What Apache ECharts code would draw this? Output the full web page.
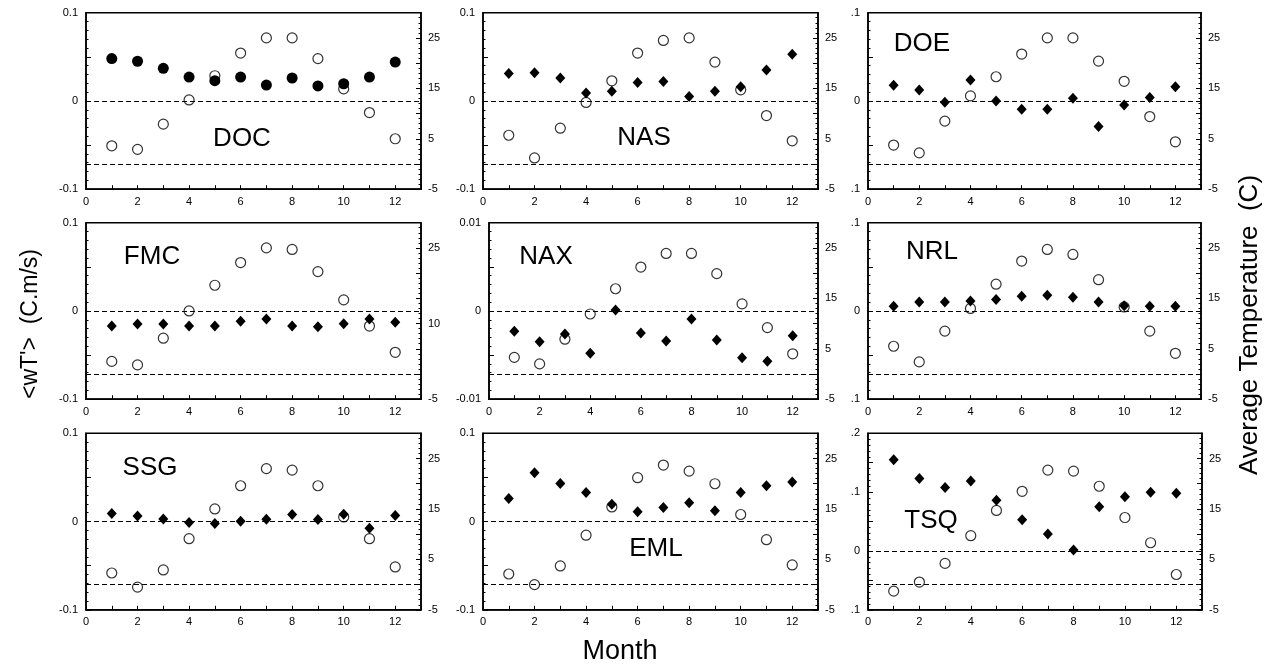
<!DOCTYPE html>
<html>
<head>
<meta charset="utf-8">
<script src="https://cdn.jsdelivr.net/npm/echarts@6/dist/echarts.min.js"></script>
<style>
html,body{margin:0;padding:0;background:#fff;}
#chart{width:1277px;height:668px;}
</style>
</head>
<body>
<div id="chart"></div>
<script>
// ---------- DATA ----------
const months = [1,2,3,4,5,6,7,8,9,10,11,12];
const stations = ['DOC','NAS','DOE','FMC','NAX','NRL','SSG','EML','TSQ'];

// <wT'> (C.m/s) -- left axis
const docWT = [0.048,0.045,0.037,0.027,0.023,0.027,0.018,0.026,0.017,0.0195,0.027,0.044];
const nasWT = [0.031,0.032,0.026,0.009,0.011,0.021,0.022,0.005,0.011,0.016,0.035,0.053];
const doeWT = [0.0177,0.0125,-0.0015,0.0238,0.0,-0.0094,-0.0094,0.003,-0.029,-0.0045,0.0038,0.0162];
const fmcWT = [-0.017,-0.0148,-0.0148,-0.017,-0.017,-0.0117,-0.0091,-0.017,-0.018,-0.0144,-0.0091,-0.0129];
const naxWT = [-0.0023,-0.0035,-0.0026,-0.0048,0.0001,-0.0025,-0.0034,-0.0009,-0.0033,-0.0053,-0.0057,-0.0028];
const nrlWT = [0.0053,0.0102,0.0102,0.0114,0.0129,0.0167,0.0178,0.0155,0.0102,0.006,0.0053,0.0053];
const ssgWT = [0.0091,0.0064,0.003,-0.0011,-0.0023,0.0004,0.0027,0.008,0.0023,0.0083,-0.0076,0.0068];
const emlWT = [0.0261,0.0553,0.0432,0.033,0.0197,0.011,0.0159,0.0212,0.0121,0.033,0.0405,0.0447];
const tsqWT = [0.155,0.123,0.108,0.119,0.086,0.053,0.029,0.0017,0.075,0.092,0.1,0.098];

// Average Temperature (C) -- right axis
const docT = [3.6,2.9,7.9,12.7,17.5,22.0,25.0,25.0,20.9,14.9,10.2,5.0];
const nasT = [5.7,1.2,7.1,12.2,16.5,22.0,24.5,25.0,20.2,14.7,9.6,4.6];
const doeT = [3.75,2.2,8.5,13.5,17.3,21.8,25.0,25.0,20.4,16.4,9.4,4.4];
const fmcT = [2.5,1.8,7.1,12.5,17.6,22.1,25.0,24.7,20.3,14.7,9.5,4.3];
const naxT = [3.3,2.0,6.9,11.9,16.9,21.2,23.9,23.9,19.9,13.9,9.2,4.0];
const nrlT = [5.5,2.4,8.5,13.0,17.8,22.4,24.7,23.7,18.7,13.3,8.5,4.1];
const ssgT = [2.3,-0.5,2.9,9.1,15.0,19.6,23.0,22.7,19.6,13.4,9.1,3.5];
const emlT = [2.1,0.0,3.7,9.8,15.4,21.2,23.7,22.5,20.0,13.9,8.9,3.9];
const tsqT = [-1.3,0.5,4.2,9.7,14.7,18.5,22.7,22.5,19.5,13.3,8.3,2.0];

// Tick labels
const xTickVals = [0,2,4,6,8,10,12];
const leftStdVals = [-0.1,0,0.1];
const leftStdText = ['-0.1','0','0.1'];
const leftDotText = ['.1','0','.1'];
const leftNaxVals = [-0.01,0,0.01];
const leftNaxText = ['-0.01','0','0.01'];
const leftTsqVals = [-0.1,0,0.1,0.2];
const leftTsqText = ['.1','0','.1','.2'];
const rightStdVals = [-5,5,15,25];
const rightFmcVals = [-5,10,25];

// ---------- LAYOUT ----------
const rowTop = [12.7, 222.7, 433.3];
const rowH = 176.5;
const panelBoxes = [
  [86,335],[483,335],[868,333],
  [86,335],[489,329],[868,333],
  [86,335],[483,335],[868,334]
];
const panelLabelPos = [
  [242,139],[644,138],[922,44],
  [152,257],[546,257],[932,252],
  [150,468],[656,549],[931,521]
];

const wtData = [docWT,nasWT,doeWT,fmcWT,naxWT,nrlWT,ssgWT,emlWT,tsqWT];
const tData = [docT,nasT,doeT,fmcT,naxT,nrlT,ssgT,emlT,tsqT];
const leftCfg = [
  {min:-0.1,max:0.1,step:0.05,vals:leftStdVals,text:leftStdText},
  {min:-0.1,max:0.1,step:0.05,vals:leftStdVals,text:leftStdText},
  {min:-0.1,max:0.1,step:0.05,vals:leftStdVals,text:leftDotText},
  {min:-0.1,max:0.1,step:0.05,vals:leftStdVals,text:leftStdText},
  {min:-0.01,max:0.01,step:0.005,vals:leftNaxVals,text:leftNaxText},
  {min:-0.1,max:0.1,step:0.05,vals:leftStdVals,text:leftDotText},
  {min:-0.1,max:0.1,step:0.05,vals:leftStdVals,text:leftStdText},
  {min:-0.1,max:0.1,step:0.05,vals:leftStdVals,text:leftStdText},
  {min:-0.1,max:0.2,step:0.05,vals:leftTsqVals,text:leftTsqText}
];
const rightLabelVals = [rightStdVals,rightStdVals,rightStdVals,rightFmcVals,rightStdVals,rightStdVals,rightStdVals,rightStdVals,rightStdVals];

function near(a,b,eps){return Math.abs(a-b) < eps;}

const FONT = 'Liberation Sans, Arial, sans-serif';
const grids=[], xAxes=[], yAxes=[], series=[], graphics=[];

stations.forEach((name,i)=>{
  const r = Math.floor(i/3);
  const [left,width] = panelBoxes[i];
  grids.push({left:left, top:rowTop[r], width:width, height:rowH, show:true,
    borderColor:'#000', borderWidth:1.5, backgroundColor:'transparent', containLabel:false});
  xAxes.push({type:'value', gridIndex:i, position:'bottom', min:0, max:13, interval:1,
    axisLine:{show:true,onZero:false,lineStyle:{color:'#000',width:1.5}},
    axisTick:{show:true,inside:true,length:4,lineStyle:{color:'#000'}},
    splitLine:{show:false},
    axisLabel:{color:'#000',fontSize:11,fontFamily:FONT,margin:7,
      formatter:v=>xTickVals.some(t=>near(t,v,1e-6))?String(Math.round(v)):''}
  });
  const lc = leftCfg[i];
  yAxes.push({type:'value', gridIndex:i, position:'left', min:lc.min, max:lc.max, interval:lc.step,
    axisLine:{show:true,onZero:false,lineStyle:{color:'#000',width:1.5}},
    axisTick:{show:true,inside:true,length:5,lineStyle:{color:'#000'}},
    minorTick:{show:true,splitNumber:5,length:2.5,lineStyle:{color:'#000'}},
    splitLine:{show:false},
    axisLabel:{color:'#000',fontSize:11,fontFamily:FONT,margin:8,
      formatter:v=>{const k=lc.vals.findIndex(t=>near(t,v,lc.step/100));return k>=0?lc.text[k]:'';}}
  });
  const rv = rightLabelVals[i];
  yAxes.push({type:'value', gridIndex:i, position:'right', min:-5, max:30, interval:5,
    axisLine:{show:true,onZero:false,lineStyle:{color:'#000',width:1.5}},
    axisTick:{show:true,inside:true,length:5,lineStyle:{color:'#000'}},
    minorTick:{show:true,splitNumber:5,length:2.5,lineStyle:{color:'#000'}},
    splitLine:{show:false},
    axisLabel:{color:'#000',fontSize:11,fontFamily:FONT,margin:7,
      formatter:v=>rv.some(t=>near(t,v,0.01))?String(Math.round(v)):''}
  });
  const dash = {color:'#000',width:1.2,type:[5,3]};
  series.push({type:'scatter', xAxisIndex:i, yAxisIndex:2*i+1, symbol:'circle', symbolSize:10,
    itemStyle:{color:'#fff',borderColor:'#000',borderWidth:1.2},
    data: months.map((m,k)=>[m,tData[i][k]]),
    markLine:{silent:true,symbol:'none',label:{show:false},lineStyle:dash,animation:false,
      data:[{yAxis:0}]},
    z:2});
  series.push({type:'scatter', xAxisIndex:i, yAxisIndex:2*i, symbol: name==='DOC'?'circle':'diamond',
    symbolSize: name==='DOC'?11:[10,11],
    itemStyle:{color:'#000',opacity:1},
    data: months.map((m,k)=>[m,wtData[i][k]]),
    markLine:{silent:true,symbol:'none',label:{show:false},lineStyle:dash,animation:false,
      data:[{yAxis:0}]},
    z:3});
  graphics.push({type:'text', x:panelLabelPos[i][0], y:panelLabelPos[i][1], z:10,
    style:{text:name, fill:'#000', fontSize:26, fontFamily:FONT, align:'center', verticalAlign:'middle'}});
});

graphics.push({type:'text', x:31, y:324, rotation:Math.PI/2, z:10,
  style:{text:"<wT'>  (C.m/s)", fill:'#000', fontSize:23, fontFamily:FONT, align:'center', verticalAlign:'middle'}});
graphics.push({type:'text', x:1250, y:325, rotation:Math.PI/2, z:10,
  style:{text:'Average Temperature  (C)', fill:'#000', fontSize:26, fontFamily:FONT, align:'center', verticalAlign:'middle'}});
graphics.push({type:'text', x:620, y:652, z:10,
  style:{text:'Month', fill:'#000', fontSize:27, fontFamily:FONT, align:'center', verticalAlign:'middle'}});

const chart = echarts.init(document.getElementById('chart'), null, {renderer:'canvas'});
chart.setOption({
  animation:false,
  backgroundColor:'#fff',
  grid:grids, xAxis:xAxes, yAxis:yAxes, series:series, graphic:graphics
});
</script>
</body>
</html>
